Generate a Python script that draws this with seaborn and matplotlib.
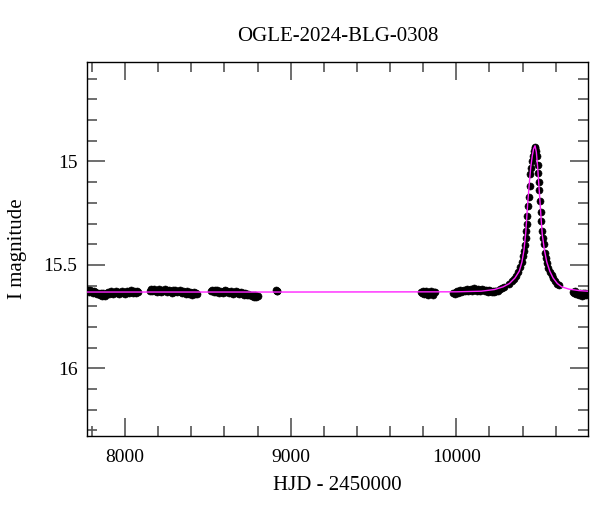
import matplotlib
matplotlib.use("Agg")
import matplotlib.pyplot as plt
import seaborn as sns
import pandas as pd
from matplotlib.ticker import MultipleLocator

# ---------------- data ----------------
s1_t = [7776, 7783, 7790, 7797, 7804, 7811, 7818, 7825, 7832, 7839, 7846, 7853, 7860, 7867, 7874,
        7881, 7888, 7895, 7902, 7909, 7916, 7923, 7930, 7937, 7944, 7951, 7958, 7965, 7972, 7979,
        7986, 7993, 8000, 8007, 8014, 8021, 8028, 8035, 8042, 8049, 8056, 8063, 8070, 8077]
s1_m = [15.622, 15.630, 15.619, 15.628, 15.635, 15.625, 15.632, 15.638, 15.642, 15.634, 15.645,
        15.638, 15.649, 15.636, 15.643, 15.651, 15.635, 15.629, 15.639, 15.633, 15.626, 15.634,
        15.641, 15.630, 15.624, 15.636, 15.629, 15.640, 15.633, 15.627, 15.637, 15.631, 15.642,
        15.630, 15.624, 15.635, 15.629, 15.622, 15.632, 15.638, 15.627, 15.634, 15.626, 15.631]

s2_t = [8148, 8155, 8162, 8169, 8176, 8183, 8190, 8197, 8204, 8211, 8218, 8225, 8232, 8239, 8246,
        8253, 8260, 8267, 8274, 8281, 8288, 8295, 8302, 8309, 8316, 8323, 8330, 8337, 8344, 8351,
        8358, 8365, 8372, 8379, 8386, 8393, 8400, 8407, 8414, 8421, 8428, 8436]
s2_m = [15.624, 15.618, 15.628, 15.621, 15.615, 15.625, 15.630, 15.620, 15.614, 15.624, 15.630,
        15.621, 15.627, 15.617, 15.623, 15.632, 15.625, 15.619, 15.628, 15.634, 15.623, 15.629,
        15.620, 15.626, 15.633, 15.627, 15.621, 15.630, 15.636, 15.626, 15.632, 15.639, 15.628,
        15.634, 15.641, 15.631, 15.636, 15.643, 15.633, 15.639, 15.634, 15.640]

s3_t = [8520, 8527, 8534, 8541, 8548, 8555, 8562, 8569, 8576, 8583, 8590, 8597, 8604, 8611, 8618,
        8625, 8632, 8639, 8646, 8653, 8660, 8667, 8674, 8681, 8688, 8695, 8702, 8709, 8716, 8723,
        8730, 8737, 8744, 8751, 8758, 8765, 8772, 8779, 8786, 8793, 8800]
s3_m = [15.626, 15.619, 15.629, 15.623, 15.631, 15.620, 15.627, 15.635, 15.625, 15.632, 15.638,
        15.628, 15.623, 15.633, 15.627, 15.636, 15.630, 15.624, 15.634, 15.639, 15.631, 15.626,
        15.636, 15.632, 15.640, 15.634, 15.630, 15.638, 15.643, 15.636, 15.641, 15.646, 15.639,
        15.647, 15.643, 15.650, 15.645, 15.653, 15.647, 15.655, 15.650]

s4_t = [8911, 8915, 8919]
s4_m = [15.622, 15.626, 15.624]

s5_t = [9785, 9791, 9797, 9803, 9809, 9815, 9821, 9827, 9833, 9839, 9845, 9851, 9857, 9863, 9870]
s5_m = [15.630, 15.637, 15.627, 15.642, 15.633, 15.626, 15.639, 15.645, 15.632, 15.638, 15.628,
        15.635, 15.643, 15.633, 15.630]

s6_t = [9982, 9989, 9996, 10003, 10010, 10017, 10024, 10031, 10038, 10045, 10052, 10059, 10066,
        10073, 10080, 10087, 10094, 10101, 10108, 10115, 10122, 10129, 10136, 10143, 10150, 10157,
        10164, 10171, 10178, 10185, 10192, 10199, 10206, 10213, 10220, 10227, 10234, 10241, 10250]
s6_m = [15.637, 15.641, 15.632, 15.627, 15.635, 15.629, 15.622, 15.631, 15.626, 15.619, 15.628,
        15.623, 15.616, 15.626, 15.621, 15.614, 15.624, 15.619, 15.611, 15.621, 15.626, 15.617,
        15.622, 15.627, 15.619, 15.614, 15.623, 15.628, 15.620, 15.625, 15.630, 15.622, 15.627,
        15.632, 15.625, 15.629, 15.624, 15.628, 15.626]

peak_t = [10262, 10275, 10290, 10318, 10338, 10350, 10362, 10372, 10384, 10396, 10402, 10408,
          10413, 10418, 10422, 10426, 10429, 10433, 10437, 10442, 10447, 10452, 10456, 10462,
          10467, 10472, 10476, 10482, 10486, 10490, 10494, 10498, 10502, 10506, 10510, 10514,
          10518, 10522, 10528, 10534, 10540, 10548, 10556, 10565, 10575, 10584, 10595, 10605, 10618]
peak_m = [15.618, 15.612, 15.605, 15.592, 15.578, 15.568, 15.552, 15.535, 15.512, 15.488, 15.455,
          15.432, 15.405, 15.372, 15.335, 15.300, 15.262, 15.215, 15.170, 15.120, 15.060, 15.030,
          15.000, 14.972, 14.950, 14.935, 14.928, 14.950, 14.975, 15.015, 15.055, 15.100, 15.140,
          15.190, 15.245, 15.290, 15.335, 15.370, 15.400, 15.440, 15.465, 15.490, 15.515, 15.535,
          15.550, 15.565, 15.580, 15.590, 15.598]

s7_t = [10705, 10711, 10717, 10723, 10729, 10735, 10741, 10747, 10753, 10759, 10765, 10771, 10777,
        10783, 10790]
s7_m = [15.630, 15.637, 15.627, 15.642, 15.634, 15.639, 15.645, 15.635, 15.642, 15.648, 15.637,
        15.643, 15.638, 15.647, 15.640]

model_t = [7772, 9000, 10000, 10150, 10230, 10282, 10320, 10354, 10380, 10396, 10408, 10419,
           10431, 10441, 10449, 10458, 10466, 10475, 10483, 10491, 10498, 10505, 10512, 10519,
           10532, 10546, 10564, 10584, 10610, 10636, 10680, 10740, 10793]
model_m = [15.631, 15.631, 15.630, 15.627, 15.619, 15.606, 15.590, 15.563, 15.530, 15.486, 15.430,
           15.345, 15.200, 15.100, 15.030, 14.975, 14.940, 14.924, 14.955, 15.030, 15.110, 15.195,
           15.280, 15.355, 15.430, 15.486, 15.530, 15.563, 15.590, 15.606, 15.617, 15.624, 15.627]

title_text = "OGLE-2024-BLG-0308"
x_label = "HJD - 2450000"
y_label = "I magnitude"

# ---------------- frames ----------------
obs = pd.DataFrame({
    "t": s1_t + s2_t + s3_t + s4_t + s5_t + s6_t + peak_t + s7_t,
    "mag": s1_m + s2_m + s3_m + s4_m + s5_m + s6_m + peak_m + s7_m,
})
model = pd.DataFrame({"t": model_t, "mag": model_m})

# ---------------- plotting ----------------
sns.set_theme(style="ticks")
plt.rcParams["font.family"] = ["Liberation Serif", "DejaVu Serif"]

fig = plt.figure(figsize=(6.0, 5.12), dpi=100)
ax = fig.add_axes([0.1455, 0.1475, 0.834, 0.732])

sns.scatterplot(data=obs, x="t", y="mag", ax=ax, color="black", edgecolor="black",
                marker="o", s=26, linewidth=0.4, zorder=2, legend=False)
sns.lineplot(data=model, x="t", y="mag", ax=ax, color="#ff22ff", linewidth=1.0,
             sort=False, estimator=None, zorder=3, legend=False)

ax.set_xlim(7772, 10793)
ax.set_ylim(16.329, 14.518)

ax.xaxis.set_major_locator(MultipleLocator(1000))
ax.xaxis.set_minor_locator(MultipleLocator(200))
ax.yaxis.set_major_locator(MultipleLocator(0.5))
ax.yaxis.set_minor_locator(MultipleLocator(0.1))
ax.yaxis.set_major_formatter(plt.FuncFormatter(lambda v, p: f"{v:g}"))

ax.tick_params(which="both", direction="in", bottom=True, left=True, top=True, right=True,
               colors="#555555", labelcolor="black", width=1.2)
ax.tick_params(which="major", length=13, labelsize=14)
ax.tick_params(which="minor", length=7)
ax.tick_params(axis="x", which="major", pad=9)
ax.tick_params(axis="y", which="major", pad=7)

for sp in ax.spines.values():
    sp.set_color("black")
    sp.set_linewidth(1.0)

ax.set_title(title_text, fontsize=15, pad=15, color="black")
ax.set_xlabel(x_label, fontsize=15, labelpad=7, color="black")
ax.set_ylabel(y_label, fontsize=15, labelpad=12, color="black")

fig.savefig("out.png", dpi=100)
